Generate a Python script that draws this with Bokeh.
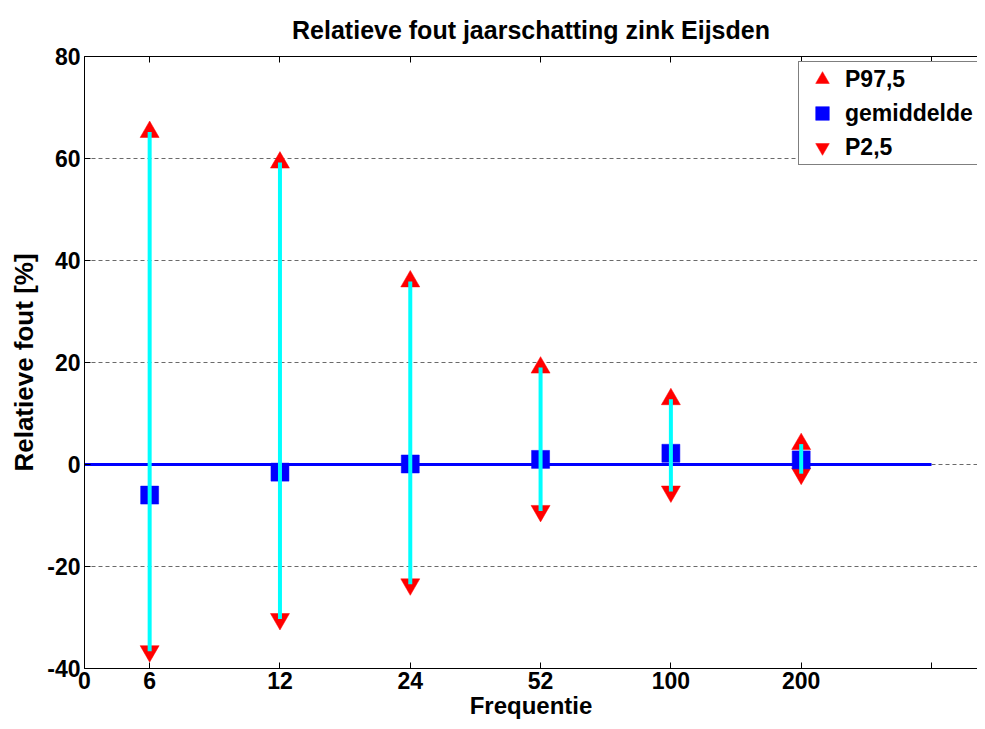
from bokeh.plotting import figure
from bokeh.models import FixedTicker, LinearAxis, Range1d, Legend, LegendItem
from bokeh.embed import file_html
from bokeh.resources import INLINE

# ---- data ----
freq_labels = ["6", "12", "24", "52", "100", "200"]
p975 = [65.2, 59.2, 35.9, 19.0, 12.8, 4.0]
gemiddelde = [-6.0, -1.5, 0.1, 1.0, 2.2, 0.9]
p25 = [-36.6, -30.3, -23.5, -9.1, -5.3, -1.8]
y_ticks = [-40, -20, 0, 20, 40, 60, 80]

x_pos = list(range(1, len(freq_labels) + 1))
ref_x = [0, len(freq_labels) + 1]
ref_y = [0, 0]

FONT = "Liberation Sans"

p = figure(width=977, height=721,
           x_range=Range1d(0.5, 7.353), y_range=Range1d(-40, 80),
           output_backend="svg", toolbar_location=None,
           title="Relatieve fout jaarschatting zink Eijsden",
           x_axis_label="Frequentie", y_axis_label="Relatieve fout [%]",
           min_border_left=84, min_border_top=56, min_border_bottom=49,
           min_border_right=0)

p.background_fill_color = "white"
p.border_fill_color = "white"
p.outline_line_color = None

# title
p.title.align = "center"
p.title.text_font = FONT
p.title.text_font_style = "bold"
p.title.text_font_size = "25px"
p.title.text_color = "black"
p.title.standoff = 26

# x axis
x_ticks = [0.5] + x_pos + [len(freq_labels) + 1]
overrides = {0.5: "0"}
for xp, lab in zip(x_pos, freq_labels):
    overrides[xp] = lab
overrides[len(freq_labels) + 1] = ""
xa = p.xaxis[0]
xa.ticker = FixedTicker(ticks=x_ticks)
xa.major_label_overrides = overrides
ya = p.yaxis[0]
ya.ticker = FixedTicker(ticks=y_ticks)
ya.major_label_overrides = {t: str(t) for t in y_ticks}

for ax in (xa, ya):
    ax.axis_line_color = "black"
    ax.axis_line_width = 1
    ax.major_tick_in = 6
    ax.major_tick_out = 0
    ax.major_tick_line_color = "black"
    ax.minor_tick_line_color = None
    ax.major_label_text_font = FONT
    ax.major_label_text_font_style = "bold"
    ax.major_label_text_font_size = "23px"
    ax.major_label_text_color = "black"
    ax.axis_label_text_font = FONT
    ax.axis_label_text_font_style = "bold"
    ax.axis_label_text_color = "black"
xa.axis_label_text_font_size = "24px"
ya.axis_label_text_font_size = "26px"
xa.major_label_standoff = 3
xa.axis_label_standoff = 0
ya.major_label_standoff = 4
ya.axis_label_standoff = 5

# top ticks (no labels) and top box edge
top = LinearAxis(ticker=FixedTicker(ticks=x_ticks), major_tick_in=6, major_tick_out=0,
                 axis_line_color="black", axis_line_width=1,
                 major_tick_line_color="black", minor_tick_line_color=None,
                 major_label_text_font_size="1px", major_label_text_alpha=0,
                 major_label_standoff=0)
p.add_layout(top, "above")

# grid
p.xgrid.visible = False
p.ygrid.ticker = FixedTicker(ticks=y_ticks)
p.ygrid.grid_line_color = "#6a6a6a"
p.ygrid.grid_line_dash = "4 3"
p.ygrid.grid_line_width = 1

# ---- glyphs ----
p.line(ref_x, ref_y, line_color="#0000ff", line_width=3)
r_up = p.scatter(x_pos, p975, marker="triangle", size=19, fill_color="#ff0000",
                 line_color="#ff0000", line_width=0.5)
r_dn = p.scatter(x_pos, p25, marker="inverted_triangle", size=19, fill_color="#ff0000",
                 line_color="#ff0000", line_width=0.5)
r_sq = p.scatter(x_pos, gemiddelde, marker="square", size=18, fill_color="#0000ff",
                 line_color="#0000ff", line_width=0.5)
p.segment(x0=x_pos, y0=p25, x1=x_pos, y1=p975, line_color="#00ffff", line_width=4)

legend = Legend(items=[LegendItem(label="P97,5", renderers=[r_up]),
                       LegendItem(label="gemiddelde", renderers=[r_sq]),
                       LegendItem(label="P2,5", renderers=[r_dn])],
                location=(714, 503))
legend.padding = 0
legend.spacing = 0
legend.margin = 0
legend.glyph_height = 34
legend.glyph_width = 46
legend.label_standoff = 0
legend.label_width = 200
legend.label_height = 25
legend.label_text_font = FONT
legend.label_text_font_style = "bold"
legend.label_text_font_size = "23px"
legend.label_text_color = "black"
legend.border_line_color = "black"
legend.border_line_width = 1
legend.background_fill_color = "white"
legend.background_fill_alpha = 1
p.add_layout(legend)

open("out.html", "w").write(file_html(p, INLINE))
